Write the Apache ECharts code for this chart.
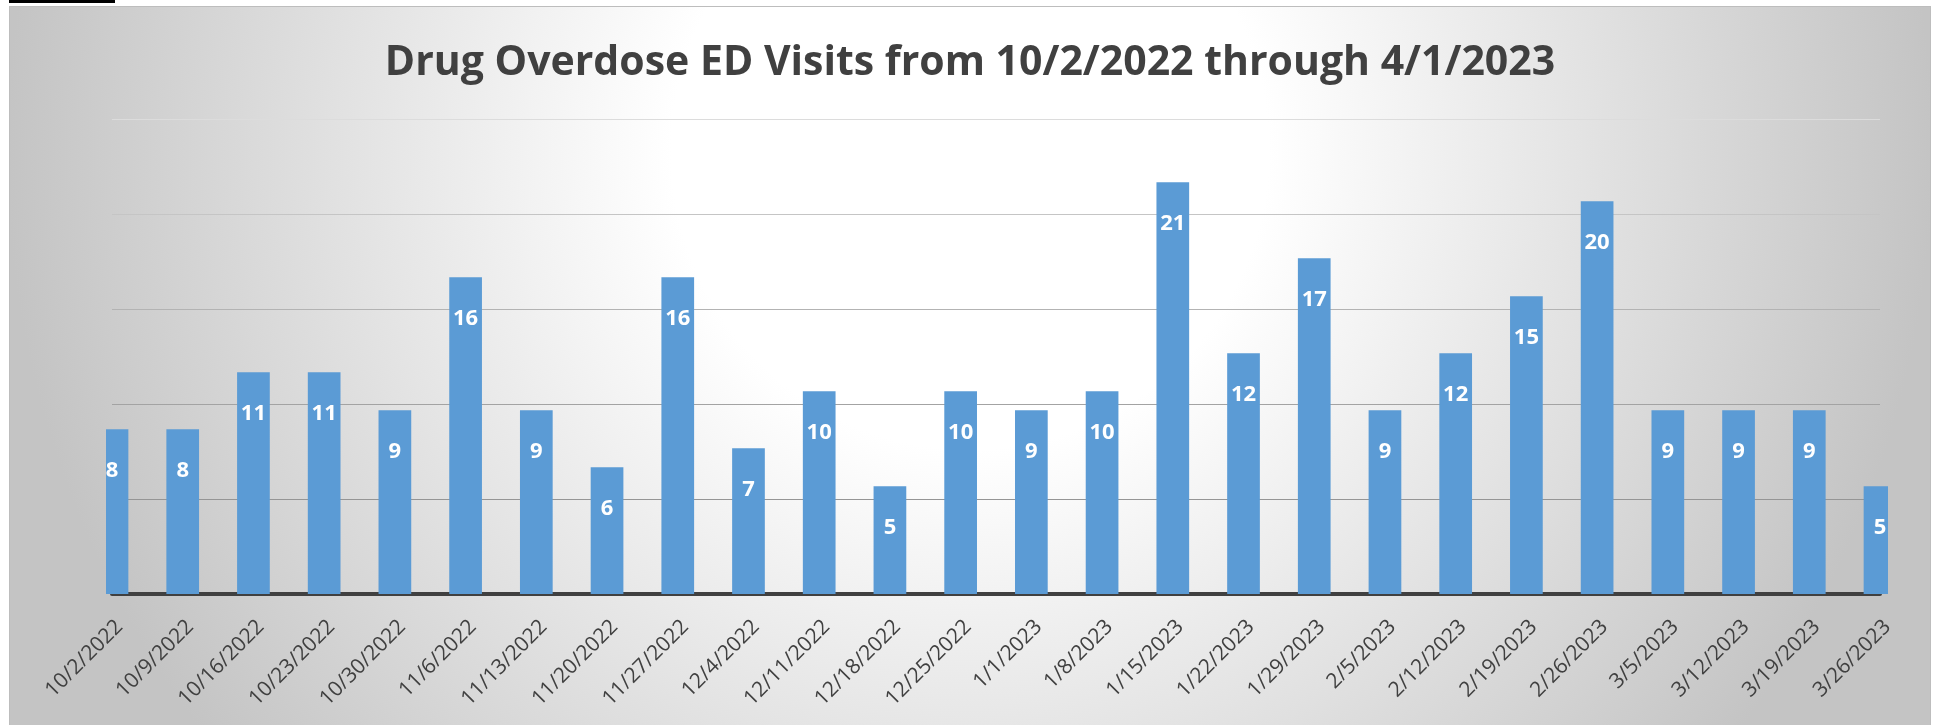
<!DOCTYPE html>
<html>
<head>
<meta charset="utf-8">
<script src="https://cdn.jsdelivr.net/npm/echarts@6/dist/echarts.min.js"></script>
<style>
  html, body { margin: 0; padding: 0; background: #ffffff; width: 1935px; height: 725px; overflow: hidden; }
  #figline { position: absolute; left: 9px; top: 0px; width: 106px; height: 3px; background: #000; }
  #chart { position: absolute; left: 9px; top: 6px; width: 1920px; height: 719px; border: 1px solid #bdbdbd; border-bottom: none; }
</style>
</head>
<body>
<div id="figline"></div>
<div id="chart"></div>
<script>
const titleText = 'Drug Overdose ED Visits from 10/2/2022 through 4/1/2023';
const categories = ['10/2/2022','10/9/2022','10/16/2022','10/23/2022','10/30/2022','11/6/2022','11/13/2022','11/20/2022','11/27/2022','12/4/2022','12/11/2022','12/18/2022','12/25/2022','1/1/2023','1/8/2023','1/15/2023','1/22/2023','1/29/2023','2/5/2023','2/12/2023','2/19/2023','2/26/2023','3/5/2023','3/12/2023','3/19/2023','3/26/2023'];
const visits = [8, 8, 11, 11, 9, 16, 9, 6, 16, 7, 10, 5, 10, 9, 10, 21, 12, 17, 9, 12, 15, 20, 9, 9, 9, 5];
const axisMin = -0.67;
const axisMax = 24.33;
const axisStep = 5;

const W = 1920, H = 719;
const gridLeft = 102, gridRight = 50, gridTop = 112, gridBottom = 132;
const bgStops = [
  { offset: 0, color: '#ffffff' },
  { offset: 0.31, color: '#ffffff' },
  { offset: 1, color: '#c4c4c4' }
];
const bgX = 0.5, bgY = 0.2, bgR = 1.34;
const globalBg = {
  type: 'radial', global: true,
  x: bgX * W, y: bgY * H, r: bgR * Math.min(W, H),
  colorStops: bgStops
};
// plot area in the original is clipped ~6px beyond the outer category centres
const clipPad = 6;
const maskTop = gridTop - 20;
const maskHeight = H - gridBottom - maskTop + 4;

const chart = echarts.init(document.getElementById('chart'), null, { renderer: 'canvas' });
chart.setOption({
  animation: false,
  backgroundColor: { type: 'radial', x: bgX, y: bgY, r: bgR, colorStops: bgStops },
  title: {
    text: titleText,
    left: 'center',
    top: 31,
    textStyle: { fontFamily: 'Open Sans', fontWeight: 'bold', fontSize: 41, color: '#404040' }
  },
  grid: { left: gridLeft, right: gridRight, top: gridTop, bottom: gridBottom, containLabel: false },
  xAxis: {
    type: 'category',
    data: categories,
    boundaryGap: false,
    axisTick: { show: false },
    axisLine: { onZero: false, lineStyle: { color: '#404040', width: 4 } },
    axisLabel: {
      interval: 0, rotate: 45, margin: 22,
      align: 'right', verticalAlign: 'top',
      fontFamily: 'Open Sans', fontSize: 21, color: '#404040'
    },
    splitLine: { show: false }
  },
  yAxis: {
    type: 'value',
    min: axisMin, max: axisMax, interval: axisStep,
    startValue: axisMin,
    axisLine: { show: false },
    axisTick: { show: false },
    axisLabel: { show: false },
    splitLine: { show: true, lineStyle: { width: 1, color: ['#909090', '#959595', '#a3a3a3', '#b3b3b3', '#c5c5c5', '#dcdcdc'] } }
  },
  graphic: [
    {
      type: 'rect', z: 100, silent: true,
      shape: { x: gridLeft - clipPad - 30, y: maskTop, width: 30, height: maskHeight },
      style: { fill: globalBg }
    },
    {
      type: 'rect', z: 100, silent: true,
      shape: { x: W - gridRight + clipPad + 2, y: maskTop, width: 30, height: maskHeight },
      style: { fill: globalBg }
    }
  ],
  series: [{
    type: 'bar',
    data: visits,
    barWidth: 32.7,
    clip: true,
    itemStyle: { color: '#5b9bd5' },
    label: {
      show: true,
      position: ['50%', 41.5],
      align: 'center',
      verticalAlign: 'middle',
      color: '#ffffff',
      fontFamily: 'Open Sans',
      fontWeight: 'bold',
      fontSize: 22
    }
  }]
});
</script>
</body>
</html>
